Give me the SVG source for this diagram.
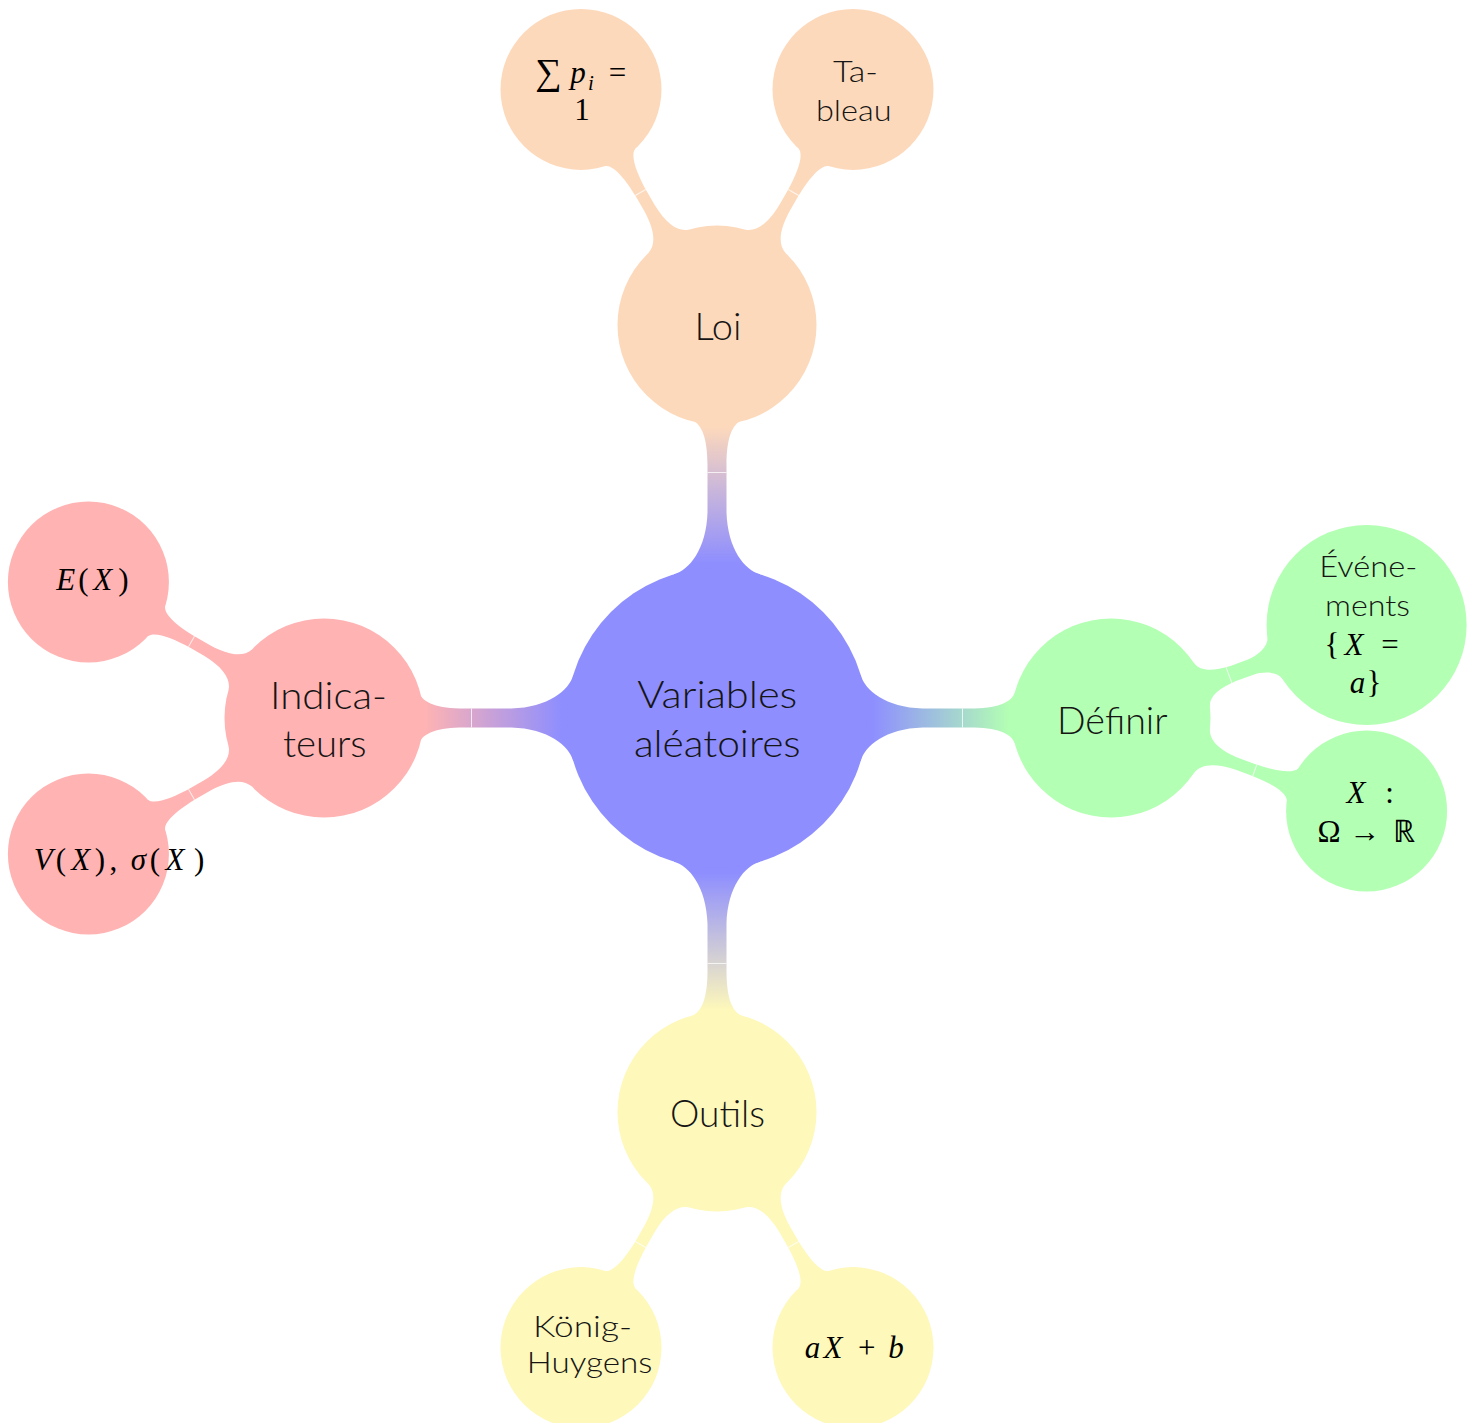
<svg xmlns="http://www.w3.org/2000/svg" xmlns:xlink="http://www.w3.org/1999/xlink" width="1470" height="1423" viewBox="0 0 1470 1423">
<style>
.t{font-family:Lato,"Noto Sans","DejaVu Sans",sans-serif;font-weight:300;fill:#151515;text-anchor:middle}
.l1{font-size:37px}
.l2{font-size:30px}
.m{font-family:"Liberation Serif","Times New Roman",serif;font-size:31px;fill:#000;text-anchor:middle}
.i{font-style:italic}
.seam{stroke:#fff;stroke-width:1;stroke-opacity:0.75;fill:none}
.cB{fill:#8e8eff}.cO{fill:#fdd9bb}.cG{fill:#b3ffb3}.cY{fill:#fef8ba}.cR{fill:#ffb3b3}
</style>
<defs>
<path id="barMain" d="M130 -43 L143.7 -43 C147.7 -28 168.7 -10.5 205.7 -9.5 L252.7 -9.5 C279.7 -9.5 293.7 -15 297.7 -25 L312 -25 L312 25 L297.7 25 C293.7 15 279.7 9.5 252.7 9.5 L205.7 9.5 C168.7 10.5 147.7 28 143.7 43 L130 43 Z"/>
<path id="bar2" d="M85 -23 L96.8 -23 C100.3 -13 112 -6.5 135 -6 L150 -6 C172 -6.3 190 -9.5 193.3 -17 L205 -17 L205 17 L193.3 17 C190 9.5 172 6.3 150 6 L135 6 C112 6.5 100.3 13 96.8 23 L85 23 Z"/>
<path id="barEv" d="M85 -23 L96.8 -23 C100 -13 112 -9 130 -8 L148 -8 C160 -8.5 172 -13 175.2 -23 L190 -23 L190 23 L175.2 23 C172 13 160 8.5 148 8 L130 8 C112 9 100 13 96.8 23 L85 23 Z"/>
<line id="seamMain" class="seam" x1="245.5" y1="-9.5" x2="245.5" y2="9.5"/>
<line id="seam2" class="seam" x1="153" y1="-6" x2="153" y2="6"/>
<line id="seamEv" class="seam" x1="125.5" y1="-9" x2="125.5" y2="9"/>
<linearGradient id="gO" gradientUnits="userSpaceOnUse" x1="155" y1="0" x2="292" y2="0"><stop offset="0" stop-color="#8e8eff"/><stop offset="1" stop-color="#fdd9bb"/></linearGradient>
<linearGradient id="gG" gradientUnits="userSpaceOnUse" x1="155" y1="0" x2="292" y2="0"><stop offset="0" stop-color="#8e8eff"/><stop offset="1" stop-color="#b3ffb3"/></linearGradient>
<linearGradient id="gY" gradientUnits="userSpaceOnUse" x1="155" y1="0" x2="292" y2="0"><stop offset="0" stop-color="#8e8eff"/><stop offset="1" stop-color="#fef8ba"/></linearGradient>
<linearGradient id="gR" gradientUnits="userSpaceOnUse" x1="155" y1="0" x2="292" y2="0"><stop offset="0" stop-color="#8e8eff"/><stop offset="1" stop-color="#ffb3b3"/></linearGradient>
</defs>
<rect width="1470" height="1423" fill="#fff"/>
<g id="connectors">
<g transform="translate(717 718) rotate(-90)"><use xlink:href="#barMain" href="#barMain" fill="url(#gO)"/><use href="#seamMain" xlink:href="#seamMain"/></g>
<g transform="translate(717 718)"><use href="#barMain" xlink:href="#barMain" fill="url(#gG)"/><use href="#seamMain" xlink:href="#seamMain"/></g>
<g transform="translate(717 718) rotate(90)"><use href="#barMain" xlink:href="#barMain" fill="url(#gY)"/><use href="#seamMain" xlink:href="#seamMain"/></g>
<g transform="translate(717 718) rotate(180)"><use href="#barMain" xlink:href="#barMain" fill="url(#gR)"/><use href="#seamMain" xlink:href="#seamMain"/></g>
<g transform="translate(717 325) rotate(-120)"><use href="#bar2" xlink:href="#bar2" class="cO"/><use href="#seam2" xlink:href="#seam2"/></g>
<g transform="translate(717 325) rotate(-60)"><use href="#bar2" xlink:href="#bar2" class="cO"/><use href="#seam2" xlink:href="#seam2"/></g>
<g transform="translate(1111 718) rotate(-20)"><use href="#barEv" xlink:href="#barEv" class="cG"/><use href="#seamEv" xlink:href="#seamEv"/></g>
<g transform="translate(1111 718) rotate(20)"><use href="#bar2" xlink:href="#bar2" class="cG"/><use href="#seam2" xlink:href="#seam2"/></g>
<g transform="translate(717 1112) rotate(120)"><use href="#bar2" xlink:href="#bar2" class="cY"/><use href="#seam2" xlink:href="#seam2"/></g>
<g transform="translate(717 1112) rotate(60)"><use href="#bar2" xlink:href="#bar2" class="cY"/><use href="#seam2" xlink:href="#seam2"/></g>
<g transform="translate(324 718) rotate(-150)"><use href="#bar2" xlink:href="#bar2" class="cR"/><use href="#seam2" xlink:href="#seam2"/></g>
<g transform="translate(324 718) rotate(150)"><use href="#bar2" xlink:href="#bar2" class="cR"/><use href="#seam2" xlink:href="#seam2"/></g>
</g>
<g id="node-center">
<circle class="cB" cx="717" cy="718" r="150"/>
<text class="t l1" x="717.3" y="708.3" textLength="160" lengthAdjust="spacingAndGlyphs">Variables</text>
<text class="t l1" x="717.3" y="756.7" textLength="166.7" lengthAdjust="spacingAndGlyphs">aléatoires</text>
</g>
<g id="node-loi">
<circle class="cO" cx="717" cy="325" r="99.5"/>
<text class="t l1" x="718" y="339.5" textLength="47" lengthAdjust="spacingAndGlyphs">Loi</text>
</g>
<g id="node-somme">
<circle class="cO" cx="581" cy="89.4" r="80.5"/>
<text class="m" y="84"><tspan x="548.3" style="font-size:37px">∑</tspan><tspan class="i" x="578" y="83">p</tspan><tspan class="i" x="591" y="90" style="font-size:21px">i</tspan><tspan x="617.5" y="83">=</tspan></text>
<text class="m" x="582" y="120">1</text>
</g>
<g id="node-tableau">
<circle class="cO" cx="853" cy="89.4" r="80.5"/>
<text class="t l2" x="855.5" y="82.3" textLength="45" lengthAdjust="spacingAndGlyphs">Ta-</text>
<text class="t l2" x="853.8" y="120.7" textLength="75.7" lengthAdjust="spacingAndGlyphs">bleau</text>
</g>
<g id="node-definir">
<circle class="cG" cx="1111" cy="718" r="99.5"/>
<text class="t l1" x="1112.3" y="733.8" textLength="110.5" lengthAdjust="spacingAndGlyphs">Définir</text>
</g>
<g id="node-evenements">
<circle class="cG" cx="1366.6" cy="625" r="100"/>
<text class="t l2" x="1368.3" y="577.3" textLength="98" lengthAdjust="spacingAndGlyphs">Événe-</text>
<text class="t l2" x="1367.5" y="615.7" textLength="85" lengthAdjust="spacingAndGlyphs">ments</text>
<text class="m" y="655"><tspan x="1332">{</tspan><tspan class="i" x="1354">X</tspan><tspan x="1390">=</tspan></text>
<text class="m" y="692.7"><tspan class="i" x="1357.5">a</tspan><tspan x="1374">}</tspan></text>
</g>
<g id="node-application">
<circle class="cG" cx="1366.6" cy="811" r="80.5"/>
<text class="m" y="803.3"><tspan class="i" x="1356">X</tspan><tspan x="1389.5">:</tspan></text>
<text class="m" y="841.7"><tspan x="1329">Ω</tspan><tspan x="1365">→</tspan><tspan x="1403.5">ℝ</tspan></text>
</g>
<g id="node-outils">
<circle class="cY" cx="717" cy="1112" r="99.5"/>
<text class="t l1" x="717.5" y="1126.7" textLength="95" lengthAdjust="spacingAndGlyphs">Outils</text>
</g>
<g id="node-konig">
<circle class="cY" cx="581" cy="1347.6" r="80.5"/>
<text class="t l2" x="582.5" y="1336.7" textLength="99" lengthAdjust="spacingAndGlyphs">König-</text>
<text class="t l2" x="526.7" y="1373.3" style="text-anchor:start" textLength="125.6" lengthAdjust="spacingAndGlyphs">Huygens</text>
</g>
<g id="node-affine">
<circle class="cY" cx="853" cy="1347.6" r="80.5"/>
<text class="m" y="1358.3"><tspan class="i" x="812.5">a</tspan><tspan class="i" x="833">X</tspan><tspan x="866.7">+</tspan><tspan class="i" x="896">b</tspan></text>
</g>
<g id="node-indicateurs">
<circle class="cR" cx="324" cy="718" r="99.5"/>
<text class="t l1" x="328.5" y="709.3" textLength="117" lengthAdjust="spacingAndGlyphs">Indica-</text>
<text class="t l1" x="324.8" y="756.7" textLength="83.7" lengthAdjust="spacingAndGlyphs">teurs</text>
</g>
<g id="node-esperance">
<circle class="cR" cx="88.4" cy="582" r="80.5"/>
<text class="m" y="590"><tspan class="i" x="65.8">E</tspan><tspan x="83.3">(</tspan><tspan class="i" x="102.8">X</tspan><tspan x="123.3">)</tspan></text>
</g>
<g id="node-variance">
<circle class="cR" cx="88.4" cy="854" r="80.5"/>
<text class="m" y="870"><tspan class="i" x="43.3">V</tspan><tspan x="60.8">(</tspan><tspan class="i" x="80.8">X</tspan><tspan x="100">)</tspan><tspan x="113.3">,</tspan><tspan class="i" x="138.5">σ</tspan><tspan x="155">(</tspan><tspan class="i" x="175">X</tspan><tspan x="199.2">)</tspan></text>
</g>
</svg>
